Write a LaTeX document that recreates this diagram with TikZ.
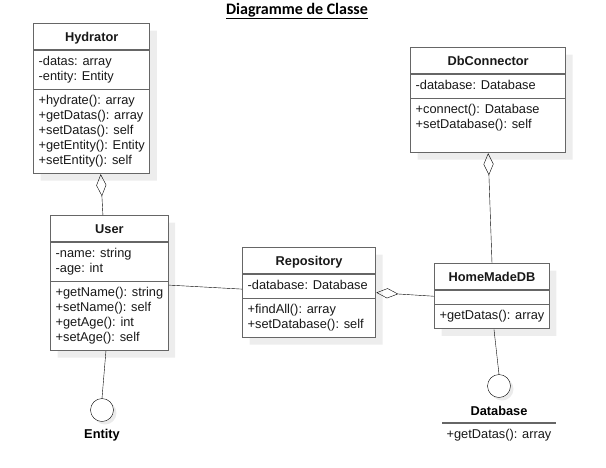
\documentclass[tikz,border=0pt]{standalone}
\usepackage{fontspec}
\setmainfont{Liberation Sans}
\newfontfamily\titlefont{Carlito}
\usetikzlibrary{shapes.multipart,arrows.meta,shadows,positioning}

\newcommand{\cname}[1]{\textbf{#1}\rule[-4pt]{0pt}{17pt}}
\newcommand{\members}[1]{\begin{tabular}{@{}l@{}}#1\end{tabular}}

\begin{document}
\begin{tikzpicture}[x=1pt,y=-1pt,thin,
    class/.style={rectangle split,rectangle split parts=3,draw=black!60,line width=1.3pt,
      fill=white,rectangle split part align={center,left,left},inner xsep=5pt,inner ysep=4pt,
      rectangle split empty part height=2pt,anchor=north west,text=black!90,
      font=\fontsize{12.8}{15}\selectfont,
      drop shadow={fill=black!7,opacity=1,shadow xshift=7pt,shadow yshift=-7pt}},
    iface/.style={circle,draw,minimum size=23pt,inner sep=0pt,fill=white,
      drop shadow={fill=black!8,opacity=1,shadow xshift=3pt,shadow yshift=-3pt}},
    ifname/.style={font=\fontsize{12.8}{15}\selectfont\bfseries,anchor=base,inner sep=0pt},
    agg/.style={{Diamond[open,length=22pt,width=10pt]}-}]
  \useasboundingbox (0,0) rectangle (606,467);

  \node[font=\titlefont\fontsize{16}{19}\selectfont\bfseries] (title) at (297,11)
    {\underline{Diagramme de Classe}};

  % classes
  \node[class,minimum width=116pt] (hydr) at (33,23)
    {\cname{Hydrator}
     \nodepart{two}\members{-datas: array\\-entity: Entity}
     \nodepart{three}\members{+hydrate(): array\\+getDatas(): array\\+setDatas(): self\\
       +getEntity(): Entity\\+setEntity(): self}};
  \node[class,minimum width=155pt] (dbc) at (410,47)
    {\cname{DbConnector}
     \nodepart{two}\members{-database: Database}
     \nodepart{three}\members{+connect(): Database\\+setDatabase(): self\\\mbox{}}};
  \node[class,minimum width=117pt] (user) at (50,215)
    {\cname{User}
     \nodepart{two}\members{-name: string\\-age: int}
     \nodepart{three}\members{+getName(): string\\+setName(): self\\+getAge(): int\\
       +setAge(): self}};
  \node[class,minimum width=133pt] (repo) at (242,247)
    {\cname{Repository}
     \nodepart{two}\members{-database: Database}
     \nodepart{three}\members{+findAll(): array\\+setDatabase(): self}};
  \node[class,minimum width=114pt] (hmdb) at (434,263)
    {\cname{HomeMadeDB}
     \nodepart{two}
     \nodepart{three}\members{+getDatas(): array}};

  % interfaces
  \node[iface] (entity) at (102,410) {};
  \node[ifname] (entityname) at (102,438.5) {Entity};
  \node[iface] (dbif) at (499,386) {};
  \node[ifname] (dbifname) at (499,415) {Database};
  \node[font=\fontsize{12.8}{15}\selectfont,anchor=base,inner sep=0pt,text=black!90]
    (dbifops) at (499,438.5) {+getDatas(): array};
  \draw[draw=black!60,line width=1.3pt] (442,423) -- (556,423);

  % connectors
  \draw[agg] ([xshift=9pt]hydr.south) -- ([xshift=-6.5pt]user.north);
  \draw[agg] (dbc.south) -- (hmdb.north);
  \draw[agg] (repo.east) -- (hmdb.west);
  \draw ([yshift=-2pt]user.east) -- ([yshift=3.5pt]repo.west);
  \draw ([xshift=-3.5pt]user.south) -- (entity.north);
  \draw ([xshift=2pt]hmdb.south) -- (dbif.north);
\end{tikzpicture}
\end{document}
